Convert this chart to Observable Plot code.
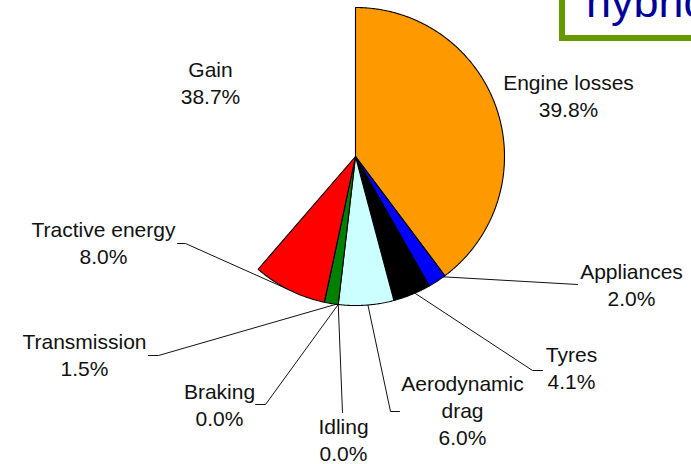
<!DOCTYPE html>
<html>
<head>
<meta charset="utf-8">
<script src="https://cdn.jsdelivr.net/npm/d3@7"></script>
<script src="https://cdn.jsdelivr.net/npm/@observablehq/plot@0.6"></script>
<style>
  html, body { margin: 0; padding: 0; background: #fff; }
  #wrap { position: relative; width: 691px; height: 464px; overflow: hidden; }
  #wrap svg { position: absolute; left: 0; top: 0; }
</style>
</head>
<body>
<div id="wrap"></div>
<script>
// ---- Data ----
const categories = ["Engine losses", "Appliances", "Tyres", "Aerodynamic drag", "Idling", "Braking", "Transmission", "Tractive energy", "Gain"];
const values = [39.8, 2.0, 4.1, 6.0, 0.0, 0.0, 1.5, 8.0, 38.7];
const sliceColors = ["#FF9900", "#0000FF", "#000000", "#CCFFFF", "#FFFFFF", "#FFFFFF", "#008000", "#FF0000", "none"];
const titleText = "hybrid";

// ---- Layout (pixels) ----
const W = 691, H = 464;
const CX = 355, CY = 156, R = 149;
const LABEL_SHIFT = -6;
// label position (centre x, cap-top y), leader anchor fraction along slice, leader bend points
const labelLayout = {
  "Engine losses":    {x: 568, y: 76},
  "Appliances":       {x: 631, y: 265, f: 0.1,  bend: [[577, 284]]},
  "Tyres":            {x: 571, y: 348, f: 0.42, bend: [[532, 370], [542, 370]]},
  "Aerodynamic drag": {x: 462, y: 377, f: 0.47, bend: [[390, 411], [399, 411]]},
  "Idling":           {x: 343, y: 420, f: 0,    bend: [[342, 412]]},
  "Braking":          {x: 219, y: 385, f: 0,    bend: [[265, 404], [255, 404]]},
  "Transmission":     {x: 84,  y: 335, f: 0.15, bend: [[158, 355], [148, 355]]},
  "Tractive energy":  {x: 103, y: 223, f: 0.52, bend: [[185, 243], [177, 243]]},
  "Gain":             {x: 210, y: 63}
};

// pixel -> unit coordinates (scales map them back)
const ux = px => (px - CX) / R;
const uy = py => (CY - py) / R;

// ---- Pie geometry (angles clockwise from 12 o'clock) ----
const total = d3.sum(values);
let acc = 0;
const slices = categories.map((name, i) => {
  const a0 = acc / total * 2 * Math.PI;
  acc += values[i];
  const a1 = acc / total * 2 * Math.PI;
  return {name, value: values[i], color: sliceColors[i], a0, a1};
});

const polyPts = [];
for (const s of slices) {
  if (s.value <= 0 || s.color === "none") continue;
  polyPts.push({name: s.name, color: s.color, x: 0, y: 0});
  const n = Math.max(2, Math.ceil((s.a1 - s.a0) / (Math.PI / 360)));
  for (let k = 0; k <= n; k++) {
    const a = s.a0 + (s.a1 - s.a0) * k / n;
    polyPts.push({name: s.name, color: s.color, x: Math.sin(a), y: Math.cos(a)});
  }
  polyPts.push({name: s.name, color: s.color, x: 0, y: 0});
}

const leaderPts = [];
const labels = [];
for (const s of slices) {
  const L = labelLayout[s.name];
  const disp = s.name.replace("Aerodynamic ", "Aerodynamic\n");
  labels.push({x: ux(L.x), y: uy(L.y + LABEL_SHIFT), text: disp + "\n" + s.value.toFixed(1) + "%"});
  if (L.bend) {
    const a = s.a0 + (s.a1 - s.a0) * L.f;
    leaderPts.push({name: s.name, x: Math.sin(a), y: Math.cos(a)});
    for (const [bx, by] of L.bend) leaderPts.push({name: s.name, x: ux(bx), y: uy(by)});
  }
}

const chart = Plot.plot({
  width: W,
  height: H,
  margin: 0,
  x: {domain: [ux(0), ux(W)], axis: null},
  y: {domain: [uy(H), uy(0)], axis: null},
  color: {type: "identity"},
  style: {fontFamily: "'Liberation Sans', Arial, sans-serif", background: "transparent"},
  marks: [
    Plot.line(leaderPts, {x: "x", y: "y", z: "name", stroke: "#111", strokeWidth: 1, curve: "linear"}),
    Plot.line(polyPts, {x: "x", y: "y", z: "name", fill: "color", stroke: "#000", strokeWidth: 1.1, strokeLinejoin: "miter", curve: "linear"}),
    Plot.text(labels, {x: "x", y: "y", text: "text", textAnchor: "middle", lineAnchor: "top", lineHeight: 1.3, fontSize: 21, fill: "#111"})
  ]
});

const wrap = document.getElementById("wrap");

// slide title box (partially visible in the crop)
const deco = d3.create("svg").attr("width", W).attr("height", H);
deco.append("rect").attr("x", 562).attr("y", -30).attr("width", 200).attr("height", 68)
  .attr("fill", "#fff").attr("stroke", "#669900").attr("stroke-width", 6);
deco.append("text").attr("x", 586).attr("y", 17).attr("font-size", 45)
  .attr("font-family", "'Liberation Sans', Arial, sans-serif").attr("fill", "#000099").text(titleText);

wrap.appendChild(chart);
wrap.appendChild(deco.node());
</script>
</body>
</html>
